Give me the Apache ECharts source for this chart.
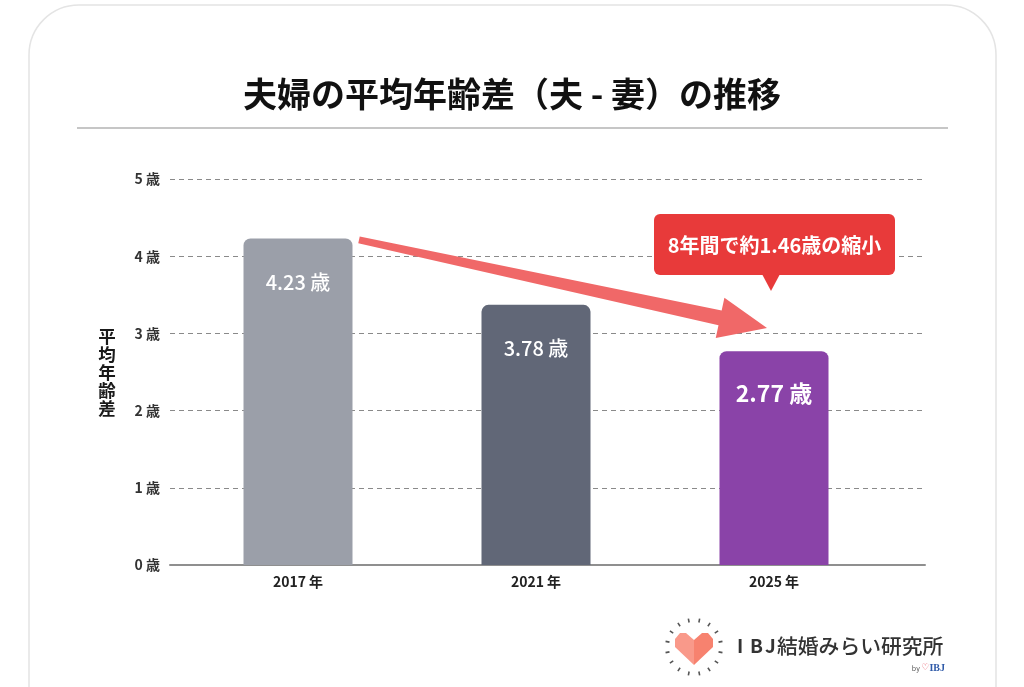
<!DOCTYPE html>
<html>
<head>
<meta charset="utf-8">
<script src="https://cdn.jsdelivr.net/npm/echarts@6/dist/echarts.min.js"></script>
<style>
html,body{margin:0;padding:0;background:#fff;}
#c{width:1024px;height:687px;}
</style>
</head>
<body>
<div id="c"></div>
<script>
// ---- data ----
const categories = ['2017 年', '2021 年', '2025 年'];
// bar heights as drawn in the picture
const barValues = [4.23, 3.37, 2.77];
// value labels printed on the bars
const barLabels = ['4.23 歳', '3.78 歳', '2.77 歳'];
const barColors = ['#9b9fa9', '#616777', '#8a43a8'];
const yTicks = [0, 1, 2, 3, 4, 5];
const titleText = '夫婦の平均年齢差（夫 - 妻）の推移';
const yName = '平均年齢差';
const calloutText = '8年間で約1.46歳の縮小';
const arrowEndValue = 3.07;

const FONT = '"Noto Sans CJK JP", "Noto Sans", sans-serif';
const chart = echarts.init(document.getElementById('c'), null, {renderer: 'canvas'});

const option = {
  backgroundColor: '#ffffff',
  animation: false,
  textStyle: {fontFamily: FONT},
  title: {
    text: titleText,
    left: 'center',
    top: 72,
    textStyle: {fontSize: 34, fontWeight: 'bold', color: '#111', fontFamily: FONT}
  },
  grid: [
    {left: 170, right: 99, top: 179, bottom: 122},
    {left: 179, right: 131, top: 179, bottom: 122}
  ],
  xAxis: [
    {
      gridIndex: 0, type: 'category', data: [''],
      axisLine: {show: true, lineStyle: {color: '#8f8f8f', width: 2}},
      axisTick: {show: false}, axisLabel: {show: false}, splitLine: {show: false}
    },
    {
      gridIndex: 1, type: 'category', data: categories,
      axisLine: {show: false}, axisTick: {show: false},
      axisLabel: {margin: 10, fontSize: 14, fontWeight: 'bold', color: '#222', fontFamily: FONT}
    }
  ],
  yAxis: [
    {
      gridIndex: 0, type: 'value', min: yTicks[0], max: yTicks[yTicks.length - 1], interval: 1,
      name: yName.split('').join('\n'),
      nameLocation: 'middle', nameRotate: 0, nameGap: 63,
      nameTextStyle: {fontSize: 17.5, fontWeight: 'bold', color: '#1a1a1a', lineHeight: 18, fontFamily: FONT, align: 'center', padding: [0, 0, 10, 0]},
      axisLine: {show: false}, axisTick: {show: false},
      axisLabel: {margin: 10, fontSize: 14, fontWeight: 'bold', color: '#333', fontFamily: FONT,
        formatter: v => v + ' 歳'},
      splitLine: {show: true, lineStyle: {color: '#8a8a8a', type: [5, 4], width: 1.2}}
    },
    {
      gridIndex: 1, type: 'value', min: 0, max: 5, show: false,
      splitLine: {show: false}
    }
  ],
  series: [
    {
      type: 'bar', xAxisIndex: 1, yAxisIndex: 1,
      barWidth: 109,
      data: barValues.map((v, i) => ({
        value: v,
        itemStyle: {color: barColors[i], borderRadius: [7, 7, 0, 0]},
        label: i === 2
          ? {fontSize: 23, fontWeight: 'bold', distance: 31}
          : {fontSize: 20, fontWeight: 500, distance: 34}
      })),
      label: {
        show: true, position: 'insideTop', color: '#fff', fontFamily: FONT,
        formatter: p => barLabels[p.dataIndex]
      },
      z: 3
    }
  ]
};
chart.setOption(option);

// ---- annotations anchored to data coordinates ----
const p0 = chart.convertToPixel({xAxisIndex: 1, yAxisIndex: 1}, [0, barValues[0]]);
const p2 = chart.convertToPixel({xAxisIndex: 1, yAxisIndex: 1}, [2, arrowEndValue]);
const start = [p0[0] + 61, p0[1] + 1.5];
const tip = [p2[0] - 7, p2[1]];
const dx = tip[0] - start[0], dy = tip[1] - start[1];
const len = Math.sqrt(dx * dx + dy * dy);
const u = [dx / len, dy / len];
const n = [-u[1], u[0]];
const headLen = 48, headHalf = 20.5, shaftEnd = 7.5, shaftStart = 3.5;
const bc = [tip[0] - u[0] * headLen, tip[1] - u[1] * headLen];
const pt = (b, s) => [b[0] + n[0] * s, b[1] + n[1] * s];
const arrowPts = [
  pt(start, -shaftStart), pt(bc, -shaftEnd), pt(bc, -headHalf), tip,
  pt(bc, headHalf), pt(bc, shaftEnd), pt(start, shaftStart)
];

const cx = p2[0];
const graphics = [
  // card
  {type: 'rect', z: -10, shape: {x: 29, y: 5, width: 967, height: 760, r: 50},
   style: {fill: '#fff', stroke: '#e4e4e4', lineWidth: 1.5}, silent: true},
  // divider
  {type: 'line', shape: {x1: 77, y1: 128, x2: 948, y2: 128},
   style: {stroke: '#c6c6c6', lineWidth: 2}},
  // arrow
  {type: 'polygon', z: 10, shape: {points: arrowPts}, style: {fill: '#f06868'}},
  // callout
  {type: 'rect', z: 10, shape: {x: cx - 120, y: 214, width: 241, height: 61, r: 6},
   style: {fill: '#e83a3a'}},
  {type: 'polygon', z: 10, shape: {points: [[cx - 12, 274], [cx + 6, 274], [cx - 3, 291]]},
   style: {fill: '#e83a3a'}},
  {type: 'text', z: 11, x: cx + 0.5, y: 245,
   style: {text: calloutText, fill: '#fff', font: 'bold 20px ' + FONT, textAlign: 'center', textVerticalAlign: 'middle'}}
];

// logo
const hx = 694, hy = 647;
for (let k = 0; k < 16; k++) {
  const a = (k / 16) * Math.PI * 2 + Math.PI / 16;
  const r1 = 25, r2 = 29;
  graphics.push({type: 'line', shape: {
    x1: hx + Math.cos(a) * r1, y1: hy + Math.sin(a) * r1,
    x2: hx + Math.cos(a) * r2, y2: hy + Math.sin(a) * r2},
    style: {stroke: '#555', lineWidth: 1.6}});
}
graphics.push(
  {type: 'polygon', shape: {points: [[694, 640], [686, 633], [680, 633], [675, 639], [675, 647], [694, 665]]},
   style: {fill: '#f9998a'}},
  {type: 'polygon', shape: {points: [[694, 640], [702, 633], [708, 633], [713, 639], [713, 647], [694, 665]]},
   style: {fill: '#f7826f'}},
  {type: 'text', x: 737, y: 646, style: {text: 'I', fill: '#333', font: 'bold 19px ' + FONT, textVerticalAlign: 'middle'}},
  {type: 'text', x: 750, y: 646, style: {text: 'B', fill: '#333', font: 'bold 19px ' + FONT, textVerticalAlign: 'middle'}},
  {type: 'text', x: 765, y: 646, style: {text: 'J', fill: '#333', font: 'bold 19px ' + FONT, textVerticalAlign: 'middle'}},
  {type: 'text', x: 777, y: 646, style: {text: '結婚みらい研究所', fill: '#333', font: '500 20.8px ' + FONT, textVerticalAlign: 'middle'}},
  {type: 'text', x: 945, y: 668, style: {
    text: '{a|by }{h|♡}{b|IBJ}', textAlign: 'right', textVerticalAlign: 'middle',
    rich: {a: {fontSize: 7, fill: '#555', fontFamily: FONT},
           h: {fontSize: 9, fill: '#e85a6a', fontFamily: 'DejaVu Sans'},
           b: {fontSize: 10, fill: '#2f5aa8', fontFamily: 'Liberation Serif', fontWeight: 'bold'}}}}
);

chart.setOption({graphic: graphics});
</script>
</body>
</html>
